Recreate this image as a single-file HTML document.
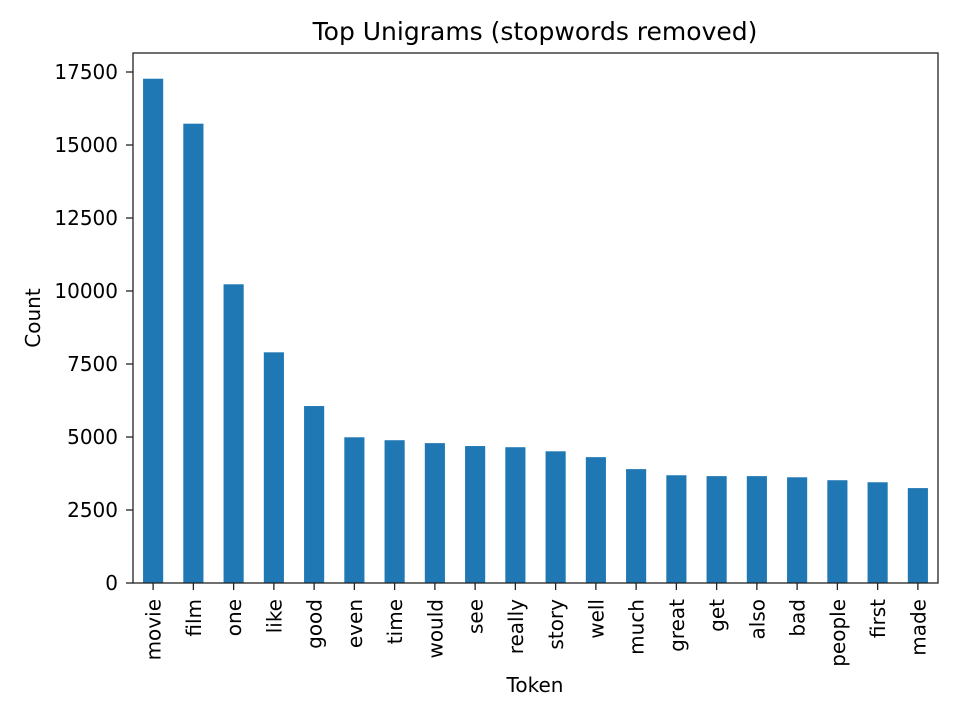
<!DOCTYPE html>
<html><head><meta charset="utf-8"><style>
body{margin:0;background:#fff;}
svg text{font-family:"DejaVu Sans","Liberation Sans",sans-serif;fill:#000;}
</style></head><body>
<svg id="chart" width="960" height="720" xmlns="http://www.w3.org/2000/svg">
<text x="535" y="40" font-size="25px" text-anchor="middle">Top Unigrams (stopwords removed)</text>
<g id="bars"></g><g id="axes"></g>
<rect x="133" y="53" width="805" height="530" fill="none" stroke="#222" stroke-width="1.3"/>
<text x="535" y="692" font-size="20px" text-anchor="middle">Token</text>
<text transform="translate(40,318) rotate(-90)" font-size="20px" text-anchor="middle">Count</text>
</svg>
<script>
const categories=["movie","film","one","like","good","even","time","would","see","really","story","well","much","great","get","also","bad","people","first","made"];
const counts=[17270,15730,10230,7900,6060,4990,4890,4790,4690,4650,4510,4310,3900,3690,3660,3660,3620,3520,3450,3250];
const yTicks=[0,2500,5000,7500,10000,12500,15000,17500];
const L=133,R=938,T=53,B=583;
const y=v=>B-v*(511/17500);
const bw=(R-L)/categories.length;
const x=i=>L+bw*(i+0.5);
const NS="http://www.w3.org/2000/svg";
const bars=document.getElementById('bars'),axes=document.getElementById('axes');
function mk(tag,attrs,parent){const e=document.createElementNS(NS,tag);for(const k in attrs)e.setAttribute(k,attrs[k]);parent.appendChild(e);return e;}
categories.forEach((c,i)=>{
 const r=mk('rect',{x:x(i)-bw*0.25,y:y(counts[i]),width:bw*0.5,height:B-y(counts[i]),fill:'#1f77b4'},bars);
 
 
 const t=mk('line',{x1:x(i),x2:x(i),y1:B,y2:B+7,stroke:'#222','stroke-width':1.3},axes);
 
 
 const tx=mk('text',{transform:`translate(${x(i)+7.5},${B+16}) rotate(-90)`,'font-size':'20px','text-anchor':'end'},axes);
 tx.textContent=c;
 
 
});
yTicks.forEach(v=>{
 const t=mk('line',{x1:L-7,x2:L,y1:y(v),y2:y(v),stroke:'#222','stroke-width':1.3},axes);
 
 
 const tx=mk('text',{x:L-15,y:y(v)+7,'font-size':'20px','text-anchor':'end'},axes);
 tx.textContent=v;
 
 
});
</script>
</body></html>
